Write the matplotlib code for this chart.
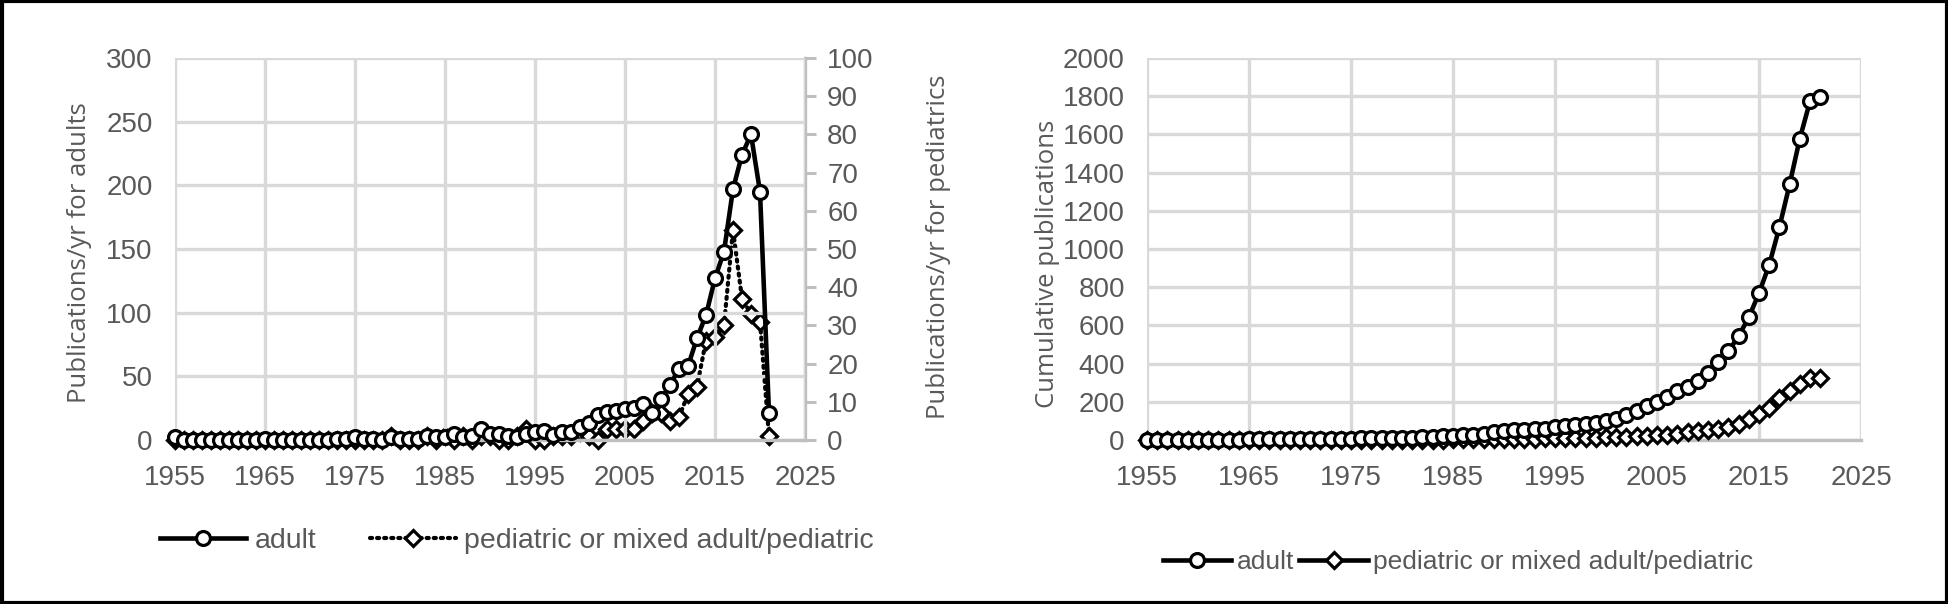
import numpy as np
import matplotlib.pyplot as plt

# data (publications per year)
years = np.arange(1955, 2022)
adult = [2, 0, 0, 0, 0, 0, 0, 0, 0, 0, 1, 0, 0, 0, 0, 0, 0, 0,
         1, 1, 2, 1, 1, 0, 2, 1, 1, 1, 3, 2,
         2, 5, 2, 3, 9, 5, 5, 3, 2, 5, 6, 7, 4, 6, 6,
         10, 13, 20, 22, 23, 24, 25, 28, 21, 32, 43, 56, 58, 80, 98,
         127, 148, 197, 224, 240, 195, 21]
pediatric = [0] * 24 + [1, 0, 0, 0, 1, 0, 1, 0, 1, 0, 1, 1, 0, 0, 1, 3, 0, 0, 1, 1, 1,
                        2, 1, 0, 3, 3, 3, 3, 5, 7, 7, 5, 6, 12, 14, 26, 27, 30,
                        55, 37, 33, 31, 1]
adult_cum = np.cumsum(adult)
pediatric_cum = np.cumsum(pediatric)

x_ticks = np.arange(1955, 2026, 10)
label_adult = "adult"
label_ped = "pediatric or mixed adult/pediatric"

gray_txt = "#595959"
grid_c = "#d9d9d9"
tick_font = "Liberation Sans"
label_font = "Open Sans"

fig = plt.figure(figsize=(19.49, 6.04), dpi=100)
fig.patch.set_facecolor("white")


def style_axes(ax):
    ax.set_xlim(1955, 2025)
    ax.set_xticks(x_ticks)
    ax.grid(True, color=grid_c, linewidth=2.4)
    ax.set_axisbelow(True)
    for s in ["top", "left", "right"]:
        ax.spines[s].set_visible(False)
    ax.spines["bottom"].set_color("#bfbfbf")
    ax.spines["bottom"].set_linewidth(2.4)
    ax.tick_params(axis="both", length=0, labelsize=20, labelcolor=gray_txt)
    ax.tick_params(axis="x", pad=18)
    ax.tick_params(axis="y", pad=16)
    for t in ax.get_xticklabels() + ax.get_yticklabels():
        t.set_fontfamily(tick_font)


def put_ylabel(ax, text, x, y):
    ax.set_ylabel(text, fontsize=18.5, color=gray_txt, family=label_font)
    ax.yaxis.set_label_coords(x, y)
    ax.yaxis.label.set_va("center")


mk = dict(markerfacecolor="white", markeredgecolor="black", markeredgewidth=2.3,
          clip_on=False)

# ---- left panel: per year, two y axes
ax1 = fig.add_axes([175 / 1949, 164 / 604, 630 / 1949, 382 / 604])
ax1.set_ylim(0, 300)
ax1.set_yticks(np.arange(0, 301, 50))
style_axes(ax1)
ax2 = ax1.twinx()
ax2.set_ylim(0, 100)
ax2.set_yticks(np.arange(0, 101, 10))
for s in ["top", "left", "bottom"]:
    ax2.spines[s].set_visible(False)
ax2.spines["right"].set_color("#bfbfbf")
ax2.spines["right"].set_linewidth(2.4)
ax2.tick_params(axis="y", length=8, width=2.2, color="#bfbfbf", labelsize=20,
                labelcolor=gray_txt, pad=8)
for t in ax2.get_yticklabels():
    t.set_fontfamily(tick_font)

l_ad, = ax1.plot(years, adult, color="black", linewidth=3.3, marker="o",
                 markersize=10, zorder=4, label=label_adult, **mk)
l_pe, = ax2.plot(years, pediatric, color="black", linewidth=3,
                 linestyle=(0, (0.5, 1.2)), dash_capstyle="round", marker="D",
                 markersize=8, zorder=3, label=label_ped, **mk)
ax1.set_zorder(ax2.get_zorder() + 1)
ax1.patch.set_visible(False)

put_ylabel(ax1, "Publications/yr for adults", -0.152, 0.49)
put_ylabel(ax2, "Publications/yr for pediatrics", 1.212, 0.505)

leg1 = fig.legend(handles=[l_ad, l_pe], loc="center", bbox_to_anchor=(517 / 1949, 1 - 541 / 604),
                  ncol=2, frameon=False, handlelength=3.0, columnspacing=1.9,
                  handletextpad=0.3, prop={"family": tick_font, "size": 20.5})
for t in leg1.get_texts():
    t.set_color(gray_txt)

# ---- right panel: cumulative
ax3 = fig.add_axes([1147 / 1949, 164 / 604, 714 / 1949, 382 / 604])
ax3.set_ylim(0, 2000)
ax3.set_yticks(np.arange(0, 2001, 200))
style_axes(ax3)
c_ad, = ax3.plot(years, adult_cum, color="black", linewidth=3.3, marker="o",
                 markersize=10, zorder=4, label=label_adult, **mk)
c_pe, = ax3.plot(years, pediatric_cum, color="black", linewidth=3.3, marker="D",
                 markersize=8, zorder=3, label=label_ped, **mk)
put_ylabel(ax3, "Cumulative publications", -0.14, 0.46)

leg2 = fig.legend(handles=[c_ad, c_pe], loc="center", bbox_to_anchor=(1458 / 1949, 1 - 562 / 604),
                  ncol=2, frameon=False, handlelength=2.6, columnspacing=0.2,
                  handletextpad=0.2, prop={"family": tick_font, "size": 19})
for t in leg2.get_texts():
    t.set_color(gray_txt)

# outer frame
fig.add_artist(plt.Rectangle((0.001, 0.002), 0.998, 0.996, transform=fig.transFigure,
                             fill=False, edgecolor="black", linewidth=3))

fig.savefig("out.png", dpi=100, facecolor="white")
